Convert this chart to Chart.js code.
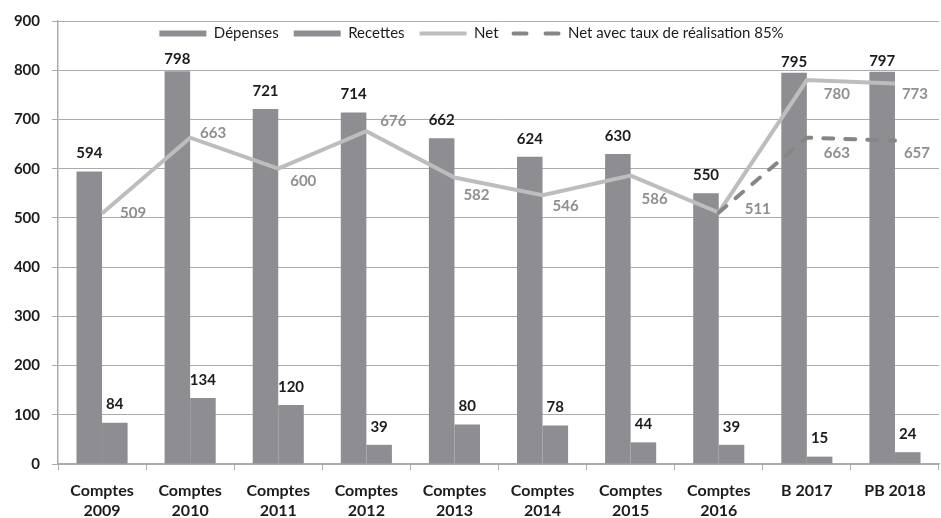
<!DOCTYPE html>
<html><head><meta charset="utf-8">
<script src="https://cdn.jsdelivr.net/npm/chart.js@4.4.0/dist/chart.umd.min.js"></script>
<style>html,body{margin:0;padding:0;background:#fff;}#wrap{width:941px;height:518px;}</style>
</head><body><div id="wrap"><canvas id="c" width="941" height="518"></canvas></div>
<script>
const categories = [['Comptes','2009'],['Comptes','2010'],['Comptes','2011'],['Comptes','2012'],['Comptes','2013'],['Comptes','2014'],['Comptes','2015'],['Comptes','2016'],'B 2017','PB 2018'];
const depenses = [594,798,721,714,662,624,630,550,795,797];
const recettes = [84,134,120,39,80,78,44,39,15,24];
const net = [509,663,600,676,582,546,586,511,780,773];
const netReal85 = [null,null,null,null,null,null,null,511,663,657];
const yMin = 0, yMax = 900, yStep = 100;

// label placement (relative to the marks drawn by the library)
const depLabelGap = [18,12,18,18,18,18,18,18,11,11];
const netNudge = [[31,0],[23,-5],[25,12],[27,-10],[22,18],[23,11],[24,24],[39,-3],[30,14],[20,11]];
const realNudge = [null,null,null,null,null,null,null,null,[30,15],[22,13]];

const BAR = '#8e8e92', NETC = '#bdbdbd', DASHC = '#868686', LBL = '#8f8f8f', TXT = '#1c1c1c', GRID = '#ababab';
const FONT = 'Lato, "Open Sans", sans-serif';

const labelsPlugin = {
  id: 'valueLabels',
  afterDatasetsDraw(chart) {
    const ctx = chart.ctx;
    ctx.save();
    ctx.textAlign = 'center';
    ctx.textBaseline = 'middle';
    ctx.font = 'bold 15px ' + FONT;
    chart.data.datasets.forEach((ds, di) => {
      const meta = chart.getDatasetMeta(di);
      meta.data.forEach((el, i) => {
        const v = ds.data[i];
        if (v === null || v === undefined) return;
        if (ds.type === 'bar') {
          const gap = di === 0 ? depLabelGap[i] : 18;
          ctx.fillStyle = TXT;
          ctx.fillText(String(v), el.x, el.y - gap);
        } else {
          const nudge = ds.label === 'Net' ? netNudge[i] : realNudge[i];
          if (!nudge) return;
          ctx.fillStyle = LBL;
          ctx.fillText(String(v), el.x + nudge[0], el.y + nudge[1]);
        }
      });
    });
    ctx.restore();
  }
};

// legend takes no layout space and sits inside the plot area, as in the original
const legendInside = {
  id: 'legendInside',
  beforeLayout(chart) {
    const lg = chart.legend;
    if (lg && !lg._patched) {
      const orig = lg.fit;
      lg.fit = function () { orig.call(this); this._realH = this.height; this.height = 0; };
      lg._patched = true;
    }
  },
  afterLayout(chart) {
    const lg = chart.legend;
    if (!lg) return;
    lg.left += 2; lg.right += 2;
    lg.top -= 10;
    lg.height = lg._realH || 40;
    lg.bottom = lg.top + lg.height;
  }
};

new Chart(document.getElementById('c'), {
  data: {
    labels: categories,
    datasets: [
      { type: 'bar', label: 'Dépenses', data: depenses, backgroundColor: BAR, order: 2, categoryPercentage: 0.58, barPercentage: 1 },
      { type: 'bar', label: 'Recettes', data: recettes, backgroundColor: BAR, order: 2, categoryPercentage: 0.58, barPercentage: 1 },
      { type: 'line', label: 'Net', data: net, borderColor: NETC, backgroundColor: NETC, borderWidth: 4, pointRadius: 0, tension: 0, order: 1 },
      { type: 'line', label: 'Net avec taux de réalisation 85%', data: netReal85, borderColor: DASHC, backgroundColor: DASHC, borderWidth: 4, borderDash: [10, 12], borderCapStyle: 'round', pointRadius: 0, tension: 0, order: 0, spanGaps: false }
    ]
  },
  options: {
    responsive: false,
    animation: false,
    devicePixelRatio: 1,
    layout: { padding: { top: 20, right: 2, bottom: 0, left: 0 } },
    plugins: {
      tooltip: { enabled: false },
      legend: {
        position: 'top',
        align: 'center',
        labels: {
          usePointStyle: true,
          pointStyleWidth: 47,
          boxHeight: 6,
          padding: 15,
          color: TXT,
          font: { family: FONT, size: 15 },
          generateLabels(chart) {
            return chart.data.datasets.map((ds, i) => {
              const isBar = ds.type === 'bar';
              const dashed = !!ds.borderDash;
              return {
                text: ds.label,
                datasetIndex: i,
                pointStyle: isBar ? 'rect' : 'line',
                fillStyle: isBar ? ds.backgroundColor : ds.borderColor,
                strokeStyle: isBar ? ds.backgroundColor : ds.borderColor,
                lineWidth: isBar ? 0 : 4,
                lineDash: dashed ? [13, 19] : [],
                lineCap: dashed ? 'round' : 'butt',
                fontColor: TXT,
                hidden: false
              };
            });
          }
        }
      }
    },
    scales: {
      x: {
        grid: { display: true, drawOnChartArea: false, drawTicks: true, tickLength: 6, color: GRID, offset: true },
        border: { display: true, color: GRID, width: 1.5 },
        ticks: { autoSkip: false, maxRotation: 0, color: TXT, padding: 10, font: { family: FONT, size: 16, weight: 'bold', lineHeight: 1.3 } },
        afterFit(s) { s.height = 54; }
      },
      y: {
        min: yMin, max: yMax,
        grid: { color: GRID, lineWidth: 1, tickLength: 6 },
        border: { display: true, color: GRID, width: 1.5 },
        ticks: { stepSize: yStep, color: TXT, padding: 12, font: { family: FONT, size: 15, weight: 'bold' } },
        afterFit(s) { s.width = 58; }
      }
    }
  },
  plugins: [labelsPlugin, legendInside]
});
</script>
</body></html>
